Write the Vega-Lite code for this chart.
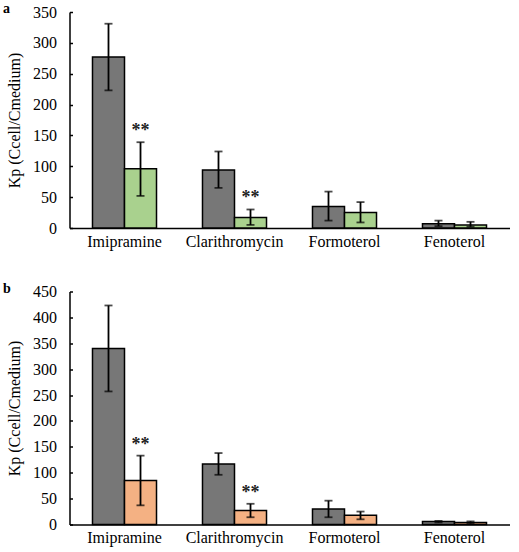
{
  "$schema": "https://vega.github.io/schema/vega-lite/v6.json",
  "padding": {"left": 2.5, "top": 1, "right": 0, "bottom": 8},
  "background": "white",
  "config": {
    "font": "Liberation Serif",
    "view": {"stroke": null},
    "axis": {"labelFont": "Liberation Serif", "titleFont": "Liberation Serif", "labelColor": "black", "titleColor": "black", "domainColor": "black", "tickColor": "black", "grid": false, "labelOverlap": false},
    "title": {"font": "Liberation Serif", "fontSize": 14, "fontWeight": "bold", "anchor": "start", "frame": "bounds", "color": "black"}
  },
  "data": {"values": [
    {"panel": "a", "drug": "Imipramine", "group": "Control", "mean": 277, "lo": 223, "hi": 331, "sig": ""},
    {"panel": "a", "drug": "Imipramine", "group": "Treated", "mean": 96, "lo": 52, "hi": 139, "sig": "**"},
    {"panel": "a", "drug": "Clarithromycin", "group": "Control", "mean": 94, "lo": 65, "hi": 124, "sig": ""},
    {"panel": "a", "drug": "Clarithromycin", "group": "Treated", "mean": 17, "lo": 5, "hi": 30, "sig": "**"},
    {"panel": "a", "drug": "Formoterol", "group": "Control", "mean": 35, "lo": 12, "hi": 59, "sig": ""},
    {"panel": "a", "drug": "Formoterol", "group": "Treated", "mean": 25, "lo": 9, "hi": 42, "sig": ""},
    {"panel": "a", "drug": "Fenoterol", "group": "Control", "mean": 7, "lo": 3, "hi": 12, "sig": ""},
    {"panel": "a", "drug": "Fenoterol", "group": "Treated", "mean": 5, "lo": 2, "hi": 10, "sig": ""},
    {"panel": "b", "drug": "Imipramine", "group": "Control", "mean": 340, "lo": 257, "hi": 423, "sig": ""},
    {"panel": "b", "drug": "Imipramine", "group": "Treated", "mean": 85, "lo": 37, "hi": 133, "sig": "**"},
    {"panel": "b", "drug": "Clarithromycin", "group": "Control", "mean": 117, "lo": 96, "hi": 138, "sig": ""},
    {"panel": "b", "drug": "Clarithromycin", "group": "Treated", "mean": 27, "lo": 14, "hi": 40, "sig": "**"},
    {"panel": "b", "drug": "Formoterol", "group": "Control", "mean": 30, "lo": 14, "hi": 46, "sig": ""},
    {"panel": "b", "drug": "Formoterol", "group": "Treated", "mean": 18, "lo": 10, "hi": 25, "sig": ""},
    {"panel": "b", "drug": "Fenoterol", "group": "Control", "mean": 6, "lo": 4, "hi": 7, "sig": ""},
    {"panel": "b", "drug": "Fenoterol", "group": "Treated", "mean": 4, "lo": 2, "hi": 6, "sig": ""}
  ]},
  "spacing": 32.5,
  "resolve": {"scale": {"color": "independent", "y": "independent"}},
  "vconcat": [
    {
      "title": {"text": "a", "offset": -12, "dx": -3},
      "width": 440,
      "height": 216,
      "transform": [{"filter": "datum.panel == 'a'"}],
      "encoding": {
        "x": {"field": "drug", "type": "nominal", "sort": ["Imipramine", "Clarithromycin", "Formoterol", "Fenoterol"], "scale": {"paddingInner": 0.418, "paddingOuter": 0.209}, "axis": {"title": null, "labelAngle": 0, "labelFont": "Liberation Serif", "labelFontSize": 16, "ticks": false, "labelPadding": 5, "domainWidth": 1.5}},
        "xOffset": {"field": "group", "type": "nominal", "scale": {"paddingInner": 0, "paddingOuter": 0}}
      },
      "layer": [
        {
          "mark": {"type": "bar", "stroke": "black", "strokeWidth": 1.5},
          "encoding": {
            "y": {"field": "mean", "type": "quantitative", "scale": {"domain": [0, 350], "nice": false}, "axis": {"title": "Kp (Ccell/Cmedium)", "titleFontSize": 16, "titleFontWeight": "normal", "titlePadding": 10.5, "values": [0, 50, 100, 150, 200, 250, 300, 350], "labelFontSize": 16, "tickSize": -3, "labelPadding": 16, "domainWidth": 1.5, "tickWidth": 1.5}},
            "color": {"field": "group", "type": "nominal", "scale": {"domain": ["Control", "Treated"], "range": ["#777777", "#a9d18e"]}, "legend": null}
          }
        },
        {
          "mark": {"type": "rule", "color": "black", "strokeWidth": 1.8},
          "encoding": {"y": {"field": "lo", "type": "quantitative", "axis": {"title": "Kp (Ccell/Cmedium)", "titleFontSize": 16, "titleFontWeight": "normal", "titlePadding": 10.5, "values": [0, 50, 100, 150, 200, 250, 300, 350], "labelFontSize": 16, "tickSize": -3, "labelPadding": 16, "domainWidth": 1.5, "tickWidth": 1.5}}, "y2": {"field": "hi"}}
        },
        {
          "mark": {"type": "tick", "color": "black", "size": 8, "thickness": 1.8},
          "encoding": {"y": {"field": "lo", "type": "quantitative", "axis": {"title": "Kp (Ccell/Cmedium)", "titleFontSize": 16, "titleFontWeight": "normal", "titlePadding": 10.5, "values": [0, 50, 100, 150, 200, 250, 300, 350], "labelFontSize": 16, "tickSize": -3, "labelPadding": 16, "domainWidth": 1.5, "tickWidth": 1.5}}}
        },
        {
          "mark": {"type": "tick", "color": "black", "size": 8, "thickness": 1.8},
          "encoding": {"y": {"field": "hi", "type": "quantitative", "axis": {"title": "Kp (Ccell/Cmedium)", "titleFontSize": 16, "titleFontWeight": "normal", "titlePadding": 10.5, "values": [0, 50, 100, 150, 200, 250, 300, 350], "labelFontSize": 16, "tickSize": -3, "labelPadding": 16, "domainWidth": 1.5, "tickWidth": 1.5}}}
        },
        {
          "mark": {"type": "text", "font": "Liberation Serif", "fontSize": 18, "fontWeight": "bold", "baseline": "middle", "dy": -11, "color": "#222222"},
          "encoding": {"y": {"field": "hi", "type": "quantitative", "axis": {"title": "Kp (Ccell/Cmedium)", "titleFontSize": 16, "titleFontWeight": "normal", "titlePadding": 10.5, "values": [0, 50, 100, 150, 200, 250, 300, 350], "labelFontSize": 16, "tickSize": -3, "labelPadding": 16, "domainWidth": 1.5, "tickWidth": 1.5}}, "text": {"field": "sig"}}
        }
      ]
    },
    {
      "title": {"text": "b", "offset": -12, "dx": -3},
      "width": 440,
      "height": 233,
      "transform": [{"filter": "datum.panel == 'b'"}],
      "encoding": {
        "x": {"field": "drug", "type": "nominal", "sort": ["Imipramine", "Clarithromycin", "Formoterol", "Fenoterol"], "scale": {"paddingInner": 0.418, "paddingOuter": 0.209}, "axis": {"title": null, "labelAngle": 0, "labelFont": "Liberation Serif", "labelFontSize": 16, "ticks": false, "labelPadding": 5, "domainWidth": 1.5}},
        "xOffset": {"field": "group", "type": "nominal", "scale": {"paddingInner": 0, "paddingOuter": 0}}
      },
      "layer": [
        {
          "mark": {"type": "bar", "stroke": "black", "strokeWidth": 1.5},
          "encoding": {
            "y": {"field": "mean", "type": "quantitative", "scale": {"domain": [0, 450], "nice": false}, "axis": {"title": "Kp (Ccell/Cmedium)", "titleFontSize": 16, "titleFontWeight": "normal", "titlePadding": 10.5, "values": [0, 50, 100, 150, 200, 250, 300, 350, 400, 450], "labelFontSize": 16, "tickSize": -3, "labelPadding": 16, "domainWidth": 1.5, "tickWidth": 1.5}},
            "color": {"field": "group", "type": "nominal", "scale": {"domain": ["Control", "Treated"], "range": ["#777777", "#f4b183"]}, "legend": null}
          }
        },
        {
          "mark": {"type": "rule", "color": "black", "strokeWidth": 1.8},
          "encoding": {"y": {"field": "lo", "type": "quantitative", "axis": {"title": "Kp (Ccell/Cmedium)", "titleFontSize": 16, "titleFontWeight": "normal", "titlePadding": 10.5, "values": [0, 50, 100, 150, 200, 250, 300, 350, 400, 450], "labelFontSize": 16, "tickSize": -3, "labelPadding": 16, "domainWidth": 1.5, "tickWidth": 1.5}}, "y2": {"field": "hi"}}
        },
        {
          "mark": {"type": "tick", "color": "black", "size": 8, "thickness": 1.8},
          "encoding": {"y": {"field": "lo", "type": "quantitative", "axis": {"title": "Kp (Ccell/Cmedium)", "titleFontSize": 16, "titleFontWeight": "normal", "titlePadding": 10.5, "values": [0, 50, 100, 150, 200, 250, 300, 350, 400, 450], "labelFontSize": 16, "tickSize": -3, "labelPadding": 16, "domainWidth": 1.5, "tickWidth": 1.5}}}
        },
        {
          "mark": {"type": "tick", "color": "black", "size": 8, "thickness": 1.8},
          "encoding": {"y": {"field": "hi", "type": "quantitative", "axis": {"title": "Kp (Ccell/Cmedium)", "titleFontSize": 16, "titleFontWeight": "normal", "titlePadding": 10.5, "values": [0, 50, 100, 150, 200, 250, 300, 350, 400, 450], "labelFontSize": 16, "tickSize": -3, "labelPadding": 16, "domainWidth": 1.5, "tickWidth": 1.5}}}
        },
        {
          "mark": {"type": "text", "font": "Liberation Serif", "fontSize": 18, "fontWeight": "bold", "baseline": "middle", "dy": -11, "color": "#222222"},
          "encoding": {"y": {"field": "hi", "type": "quantitative", "axis": {"title": "Kp (Ccell/Cmedium)", "titleFontSize": 16, "titleFontWeight": "normal", "titlePadding": 10.5, "values": [0, 50, 100, 150, 200, 250, 300, 350, 400, 450], "labelFontSize": 16, "tickSize": -3, "labelPadding": 16, "domainWidth": 1.5, "tickWidth": 1.5}}, "text": {"field": "sig"}}
        }
      ]
    }
  ]
}
